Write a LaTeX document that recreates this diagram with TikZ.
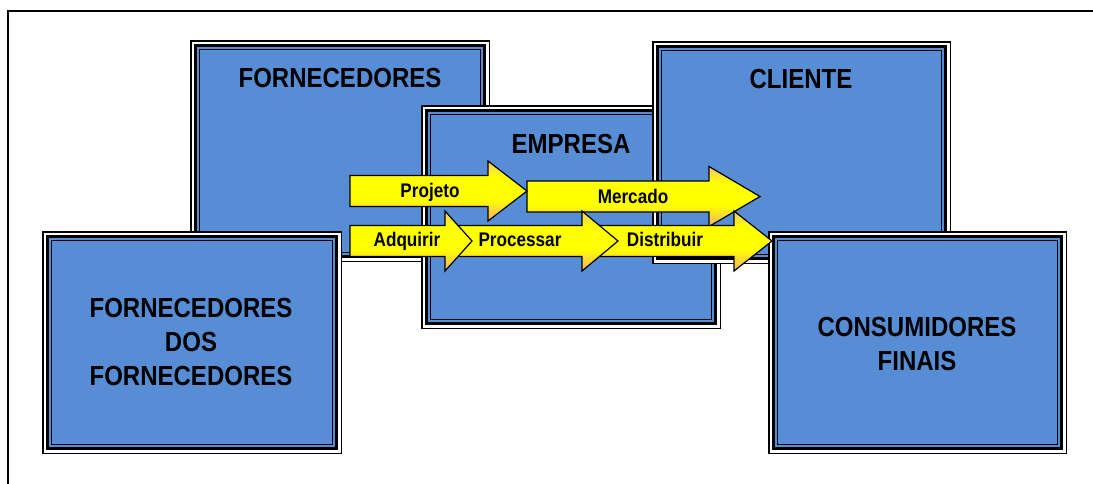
\documentclass[tikz,border=0pt]{standalone}
\usepackage{fontspec}
\newfontfamily\bx{Liberation Sans}[FakeStretch=0.87]
\definecolor{boxblue}{RGB}{86,141,212}
\definecolor{peach}{RGB}{244,176,108}
\definecolor{peachtop}{RGB}{250,198,118}
\definecolor{ylw}{RGB}{255,255,0}
\tikzset{
  boxnode/.style={draw=black, line width=3.6pt, fill=boxblue, inner sep=0pt, outer sep=0pt},
  boxlabel/.style={font={\bx\bfseries\fontsize{27.6}{34}\selectfont}, inner sep=0pt, align=center},
  arrowline/.style={draw=black, line width=1.2pt, line join=miter},
  arrowtext/.style={font={\bx\bfseries\fontsize{19.7}{22}\selectfont}, inner sep=0pt}
}
% name, x0, y0, x1, y1 (outer edges, image coordinates)
\newcommand\tribox[5]{%
  \draw[line width=1.5pt, fill=white] ({#2+0.75},{#3+0.75}) rectangle ({#4-0.75},{#5-0.75});
  \node[boxnode, minimum width={#4-#2-11}, minimum height={#5-#3-11}] (#1) at ({(#2+#4)/2},{(#3+#5)/2}) {};
  \draw[line width=1.6pt] ([shift={(4,4)}]#1.north west) rectangle ([shift={(-4,-4)}]#1.south east);
}
\newcommand\yarrowpath[4]{(#1,{#4-15.5}) -- (#2,{#4-15.5}) -- (#2,{#4-30}) -- (#3,#4)
     -- (#2,{#4+30}) -- (#2,{#4+15.5}) -- (#1,{#4+15.5}) -- cycle}
% name, x0, xh, xtip, yc, text, textx, baseline
\newcommand\yarrow[8]{%
  \begin{scope}
    \clip \yarrowpath{#2}{#3}{#4}{#5};
    \fill[ylw] (#2,{#5-31}) rectangle (#4,{#5+31});
    \foreach \k in {0,...,7}{%
      \pgfmathtruncatemacro\mix{100-\k*13}%
      \fill[peachtop!\mix!ylw] (#2,{#5-31+2*\k}) rectangle (#4,{#5-28.8+2*\k});
    }
    \foreach \k in {0,...,10}{%
      \pgfmathtruncatemacro\mix{100-\k*9.5}%
      \fill[peach!\mix!ylw] (#2,{#5+31-2*\k}) rectangle (#4,{#5+28.8-2*\k});
    }
  \end{scope}
  \draw[arrowline] \yarrowpath{#2}{#3}{#4}{#5};
  \node[arrowtext, anchor=base] (#1) at (#7,#8) {#6};
}
\begin{document}
\begin{tikzpicture}[x=1pt, y=-1pt]
\useasboundingbox (0,0) rectangle (1093,483);
\begin{scope}
\clip (0,0) rectangle (1093,483);
\draw[line width=2pt] (8,500) -- (8,11) -- (1110,11);
\end{scope}
% boxes
\tribox{forn}{190}{40}{490}{262}
\tribox{fdf}{42}{231}{342}{454}
\tribox{emp}{421}{105}{721}{329}
\tribox{cli}{652}{41}{951}{264}
\tribox{cons}{768}{231}{1067}{454}
% box labels
\node[boxlabel, anchor=base] (lforn) at (340,87.3) {FORNECEDORES};
\node[boxlabel, anchor=base] (lemp) at (571,153) {EMPRESA};
\node[boxlabel, anchor=base] (lcli) at (801,88.3) {CLIENTE};
\node[boxlabel] (lfdf) at (191,341.5) {FORNECEDORES\\DOS\\FORNECEDORES};
\node[boxlabel] (lcons) at (917,343.7) {CONSUMIDORES\\FINAIS};
% arrows
\yarrow{amerc}{527}{709}{760}{196.5}{Mercado}{633}{203}
\yarrow{aproj}{350}{488}{527}{191}{Projeto}{430}{197.5}
\yarrow{adist}{590}{734}{772}{241}{Distribuir}{665}{246}
\yarrow{aproc}{450}{582}{618}{241}{Processar}{520}{246}
\yarrow{aadq}{350}{445}{472}{241}{Adquirir}{407}{246}
\end{tikzpicture}
\end{document}
